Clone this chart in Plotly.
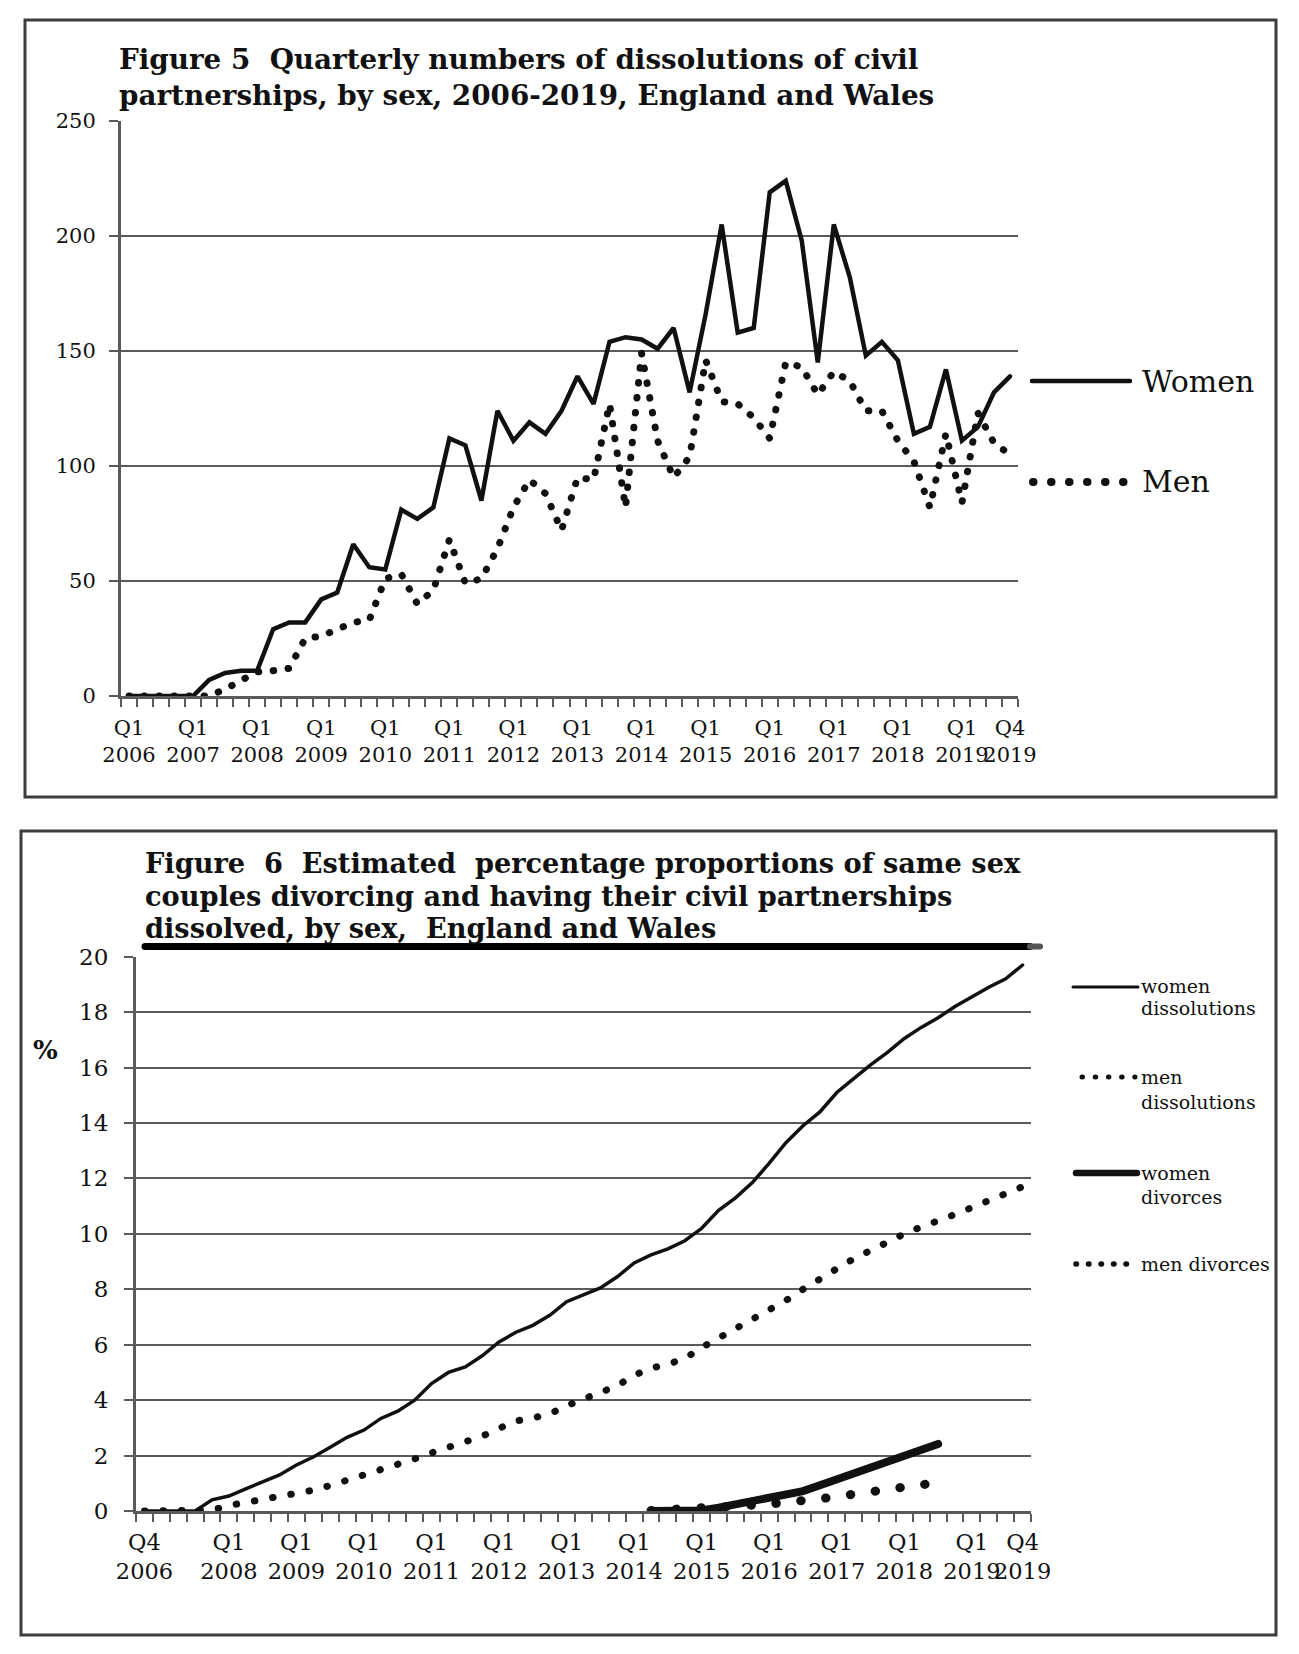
import plotly.graph_objects as go

W, H = 1299, 1654
FONT = "DejaVu Serif"
INK = "#111111"
GRID = "#5a5a5a"
FRAME = "#3c3c3c"

# ---------------- Figure 5 data ----------------
years5 = list(range(2006, 2020))
quarters5 = [f"Q{q} {y}" for y in years5 for q in (1, 2, 3, 4)]
women5 = [0, 0, 0, 0, 0, 7, 10, 11, 11, 29, 32, 32, 42, 45, 66, 56, 55, 81, 77, 82,
          112, 109, 85, 124, 111, 119, 114, 124, 139, 127, 154, 156, 155, 151, 160, 132,
          166, 205, 158, 160, 219, 224, 198, 145, 205, 182, 148, 154, 146, 114, 117, 142,
          111, 117, 132, 139]
men5 = [0, 0, 0, 0, 0, 0, 3, 7, 10.5, 11, 12, 25, 26, 29, 32, 33, 51, 53, 40, 46,
        68, 49, 51, 64, 82, 94, 88, 72, 95, 94, 127, 82, 149, 111, 95, 104, 146, 128,
        127, 121, 112, 145, 143, 131, 141, 137, 124, 124, 111, 102, 82, 114, 84, 123,
        110, 105]
yticks5 = [0, 50, 100, 150, 200, 250]

# ---------------- Figure 6 data ----------------
quarters6 = ["Q4 2006"] + [f"Q{q} {y}" for y in range(2007, 2020) for q in (1, 2, 3, 4)]
women_diss = [0, 0, 0, 0, 0.4, 0.54, 0.8, 1.05, 1.3, 1.66,
              1.95, 2.3, 2.66, 2.92, 3.34, 3.6, 4.0, 4.6, 5.0, 5.2,
              5.6, 6.1, 6.45, 6.7, 7.06, 7.55, 7.8, 8.05, 8.45, 8.95,
              9.24, 9.46, 9.75, 10.2, 10.85, 11.3, 11.85, 12.55, 13.3, 13.9,
              14.4, 15.1, 15.6, 16.1, 16.55, 17.05, 17.45, 17.8, 18.2, 18.55,
              18.9, 19.2, 19.7]
men_diss = [0, 0, 0, 0, 0.03, 0.2, 0.3, 0.4, 0.5, 0.66,
            0.75, 0.92, 1.1, 1.3, 1.5, 1.68, 1.88, 2.1, 2.3, 2.5,
            2.7, 2.98, 3.25, 3.36, 3.5, 3.8, 4.02, 4.25, 4.52, 4.9,
            5.15, 5.3, 5.5, 5.9, 6.24, 6.57, 6.87, 7.2, 7.6, 8.0,
            8.4, 8.74, 9.1, 9.4, 9.75, 10.0, 10.25, 10.45, 10.7, 10.95,
            11.2, 11.45, 11.7]
divorce_start = "Q2 2014"
women_div = [0, 0, 0, 0.02, 0.12, 0.25, 0.37, 0.49, 0.6, 0.72,
             0.93, 1.15, 1.36, 1.56, 1.78, 2.0, 2.2, 2.42]
men_div = [0.02, 0.04, 0.06, 0.09, 0.12, 0.16, 0.21, 0.25, 0.29, 0.36,
           0.44, 0.52, 0.62, 0.72, 0.8, 0.88, 0.95, 1.0]
yticks6 = list(range(0, 21, 2))


def px(x):
    return x / W


def py(y):
    return 1 - y / H


x5 = list(range(len(quarters5)))
x6 = list(range(len(quarters6)))
d0 = quarters6.index(divorce_start)
xdiv = x6[d0:d0 + len(women_div)]

tick5 = [i for i, q in enumerate(quarters5) if q.startswith("Q1")] + [len(quarters5) - 1]
tick6 = [0] + [i for i, q in enumerate(quarters6)
               if q.startswith("Q1") and not q.endswith("2007")] + [len(quarters6) - 1]

fig = go.Figure()
fig.add_trace(go.Scatter(x=x5, y=women5, mode="lines", name="Women",
                         line=dict(color=INK, width=4.5), xaxis="x", yaxis="y"))
fig.add_trace(go.Scatter(x=x5, y=men5, mode="lines", name="Men",
                         line=dict(color=INK, width=7, dash="0.5px,14.5px"),
                         xaxis="x", yaxis="y"))
fig.add_trace(go.Scatter(x=x6, y=women_diss, mode="lines", name="women dissolutions",
                         line=dict(color=INK, width=3.5), xaxis="x2", yaxis="y2"))
fig.add_trace(go.Scatter(x=x6, y=men_diss, mode="lines", name="men dissolutions",
                         line=dict(color=INK, width=7, dash="0.5px,18px"),
                         xaxis="x2", yaxis="y2"))
fig.add_trace(go.Scatter(x=xdiv, y=women_div, mode="lines", name="women divorces",
                         line=dict(color=INK, width=8), xaxis="x2", yaxis="y2"))
fig.add_trace(go.Scatter(x=xdiv, y=men_div, mode="lines", name="men divorces",
                         line=dict(color=INK, width=9, dash="0.5px,24.5px"),
                         xaxis="x2", yaxis="y2"))


def xaxis(domain, n, tickidx, labels, size, standoff):
    return dict(domain=domain, range=[-0.5, n - 0.5], fixedrange=True, automargin=False,
                showgrid=False, zeroline=False, showline=True, linecolor=GRID, linewidth=2.5,
                tickmode="array", tickvals=tickidx,
                ticktext=[labels[i].replace(" ", "<br>") for i in tickidx],
                ticks="outside", ticklen=8, tickcolor="rgba(0,0,0,0)", tickangle=0,
                ticklabelstandoff=standoff,
                tickfont=dict(family=FONT, size=size, color=INK),
                minor=dict(tickmode="array", tickvals=[i - 0.5 for i in range(n + 1)],
                           ticks="outside", ticklen=8, tickwidth=2, tickcolor=GRID,
                           showgrid=False))


def yaxis(domain, rng, vals, size, anchor, standoff):
    return dict(domain=domain, range=rng, fixedrange=True, anchor=anchor, automargin=False,
                showgrid=True, gridcolor=GRID, gridwidth=2, zeroline=False,
                showline=True, linecolor=GRID, linewidth=3,
                tickmode="array", tickvals=vals,
                ticks="outside", ticklen=9, tickwidth=2, tickcolor=GRID,
                ticklabelstandoff=standoff,
                tickfont=dict(family=FONT, size=size, color=INK))


shapes = [
    dict(type="rect", xref="paper", yref="paper", x0=px(25), x1=px(1276), y0=py(20), y1=py(797),
         line=dict(color=FRAME, width=3)),
    dict(type="rect", xref="paper", yref="paper", x0=px(21), x1=px(1276), y0=py(831), y1=py(1635),
         line=dict(color=FRAME, width=3)),
    dict(type="line", xref="paper", yref="paper", x0=px(145), x1=px(1030), y0=py(946.5), y1=py(946.5),
         line=dict(color="#000000", width=7)),
    dict(type="line", xref="paper", yref="paper", x0=px(1030), x1=px(1040), y0=py(946.5), y1=py(946.5),
         line=dict(color="#555555", width=6)),
    # legend keys, Figure 5
    dict(type="line", xref="paper", yref="paper", x0=px(1032), x1=px(1130), y0=py(381), y1=py(381),
         line=dict(color=INK, width=4.5)),
    dict(type="line", xref="paper", yref="paper", x0=px(1033), x1=px(1124), y0=py(482), y1=py(482),
         line=dict(color=INK, width=8, dash="0.5px,17.5px")),
    # legend keys, Figure 6
    dict(type="line", xref="paper", yref="paper", x0=px(1073), x1=px(1138), y0=py(987), y1=py(987),
         line=dict(color=INK, width=3)),
    dict(type="line", xref="paper", yref="paper", x0=px(1082), x1=px(1135), y0=py(1077), y1=py(1077),
         line=dict(color=INK, width=5, dash="0.5px,12.7px")),
    dict(type="line", xref="paper", yref="paper", x0=px(1076), x1=px(1137), y0=py(1173), y1=py(1173),
         line=dict(color=INK, width=6.5)),
    dict(type="line", xref="paper", yref="paper", x0=px(1076), x1=px(1137), y0=py(1264), y1=py(1264),
         line=dict(color=INK, width=5.5, dash="0.5px,12px")),
]


def ann(text, x, y, size, bold=False, xanchor="left"):
    return dict(text=f"<b>{text}</b>" if bold else text, x=px(x), y=py(y),
                xref="paper", yref="paper", xanchor=xanchor, yanchor="middle",
                showarrow=False, font=dict(family=FONT, size=size, color=INK))


NB = "\u00a0"
annotations = [
    ann(f"Figure 5{NB} Quarterly numbers of dissolutions of civil", 117, 59, 27.8, True),
    ann("partnerships, by sex, 2006-2019, England and Wales", 117, 95, 27.8, True),
    ann(f"Figure{NB} 6{NB} Estimated{NB} percentage proportions of same sex", 143, 863, 27.2, True),
    ann("couples divorcing and having their civil partnerships", 143, 896, 27.2, True),
    ann(f"dissolved, by sex,{NB} England and Wales", 143, 928, 27.2, True),
    ann("%", 45, 1050, 26, True, "center"),
    ann("Women", 1140, 381, 30),
    ann("Men", 1140, 482, 30),
    ann("women", 1139, 986, 19),
    ann("dissolutions", 1139, 1008, 19),
    ann("men", 1139, 1077, 19),
    ann("dissolutions", 1139, 1102, 19),
    ann("women", 1139, 1173, 19),
    ann("divorces", 1139, 1197, 19),
    ann("men divorces", 1139, 1264, 19),
]

fig.update_layout(
    width=W, height=H, autosize=False,
    margin=dict(l=0, r=0, t=0, b=0, pad=0, autoexpand=False),
    paper_bgcolor="white", plot_bgcolor="white",
    showlegend=False, hovermode=False,
    font=dict(family=FONT, color=INK),
    xaxis=xaxis([px(121), px(1018)], len(quarters5), tick5, quarters5, 21, 3),
    yaxis=yaxis([py(696), py(121)], [0, 250], yticks5, 21, "x", 9),
    xaxis2=xaxis([px(136), px(1031)], len(quarters6), tick6, quarters6, 22.5, 1),
    yaxis2=yaxis([py(1511), py(956.7)], [0, 20], yticks6, 23, "x2", 11),
    shapes=shapes,
    annotations=annotations,
)
fig.layout.xaxis.anchor = "y"
fig.layout.xaxis2.anchor = "y2"

post = """
var st = document.createElement('style');
st.textContent = 'html, body {margin:0; padding:0; overflow:hidden;} path.js-line, .shapelayer path { stroke-linecap: round; }';
document.head.appendChild(st);
"""
fig.write_html("out.html", post_script=post, config={"displayModeBar": False})
